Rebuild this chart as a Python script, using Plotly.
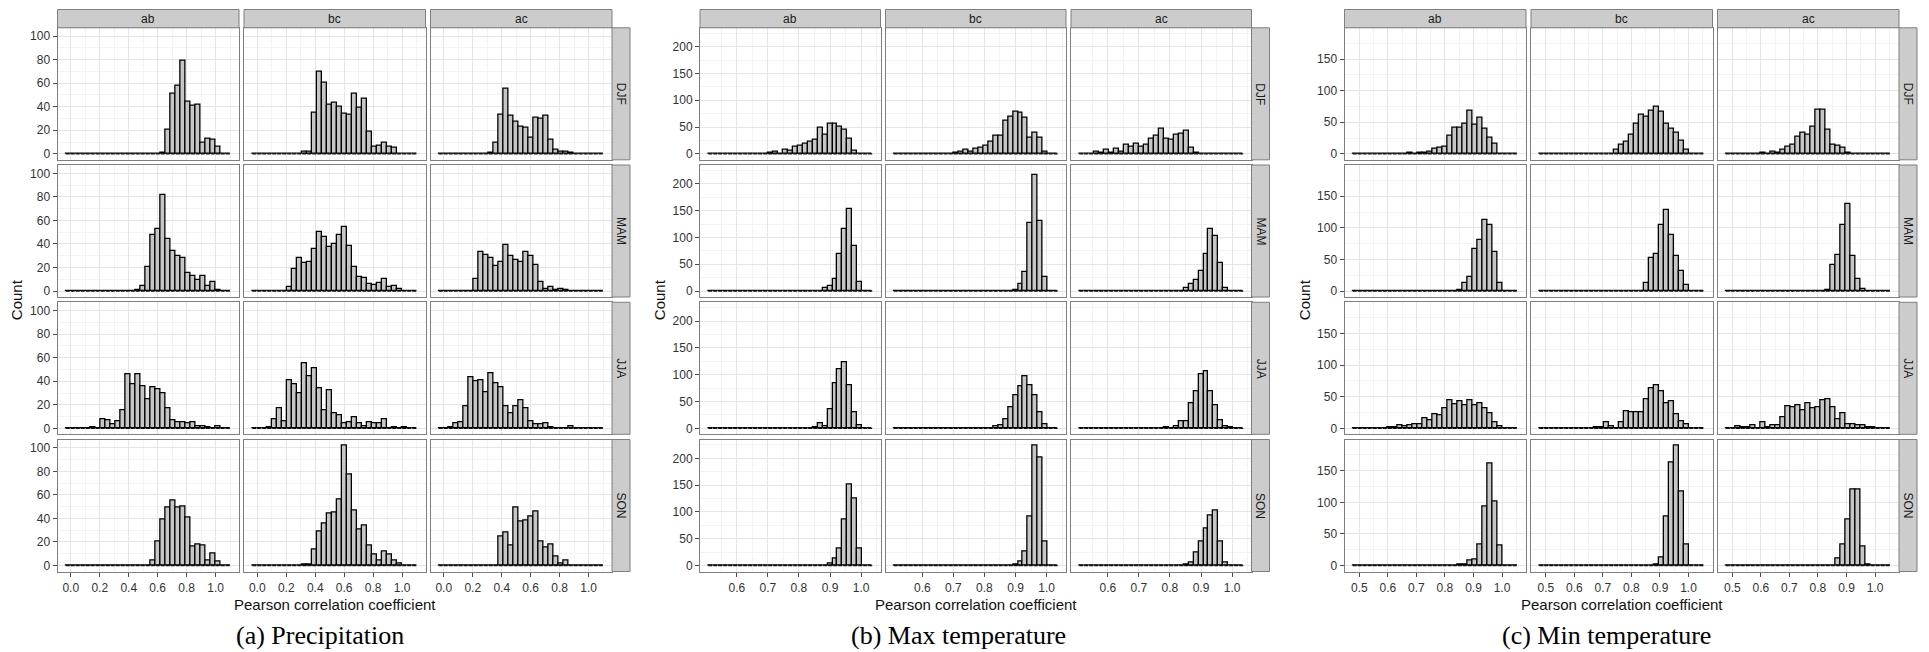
import plotly.graph_objects as go

# ---------------------------------------------------------------- data
SEASONS = ["DJF", "MAM", "JJA", "SON"]
PAIRS = ["ab", "bc", "ac"]
N_BINS = 33

# (a) Precipitation: histogram bins and counts
PRECIP_BIN_START = -0.0345
PRECIP_BIN_WIDTH = 0.0345
precip_djf_ab = [0]*19 + [1, 20, 51, 58, 79, 44, 41, 42, 9, 13, 12, 6] + [0]*2
precip_djf_bc = [0]*10 + [2, 2, 35, 70, 60, 42, 43, 40, 34, 33, 51, 39, 47, 19, 6, 7, 9, 6, 5] + [0]*4
precip_djf_ac = [0]*10 + [1, 9, 33, 55, 32, 27, 23, 22, 14, 31, 30, 32, 12, 3, 2, 2, 1] + [0]*6
precip_mam_ab = [0]*14 + [1, 4, 20, 48, 53, 82, 44, 34, 30, 28, 15, 13, 9, 13, 4, 8, 1] + [0]*2
precip_mam_bc = [0]*7 + [3, 19, 28, 24, 25, 36, 50, 46, 37, 40, 48, 54, 38, 20, 12, 11, 6, 5, 7, 10, 3, 4, 2] + [0]*3
precip_mam_ac = [0]*7 + [10, 33, 31, 28, 21, 25, 39, 30, 26, 25, 33, 30, 22, 8, 2, 3, 1, 2, 1] + [0]*7
precip_jja_ab = [0]*5 + [1, 0, 8, 7, 3, 6, 15, 46, 37, 46, 36, 25, 35, 33, 30, 17, 7, 5, 5, 4, 5, 2, 2, 1, 0, 2] + [0]*2
precip_jja_bc = [0]*3 + [1, 8, 17, 6, 41, 37, 30, 55, 44, 51, 34, 15, 32, 13, 11, 4, 5, 9, 4, 2, 5, 4, 4, 8, 0, 1, 0, 1] + [0]*2
precip_jja_ac = [0]*2 + [1, 4, 5, 19, 43, 40, 41, 31, 47, 38, 35, 19, 13, 19, 24, 17, 6, 3, 3, 4, 1, 0, 0, 0, 2] + [0]*6
precip_son_ab = [0]*17 + [4, 20, 39, 49, 55, 49, 50, 41, 16, 18, 17, 4, 10, 3] + [0]*2
precip_son_bc = [0]*10 + [1, 1, 14, 29, 36, 44, 45, 56, 102, 77, 47, 31, 34, 17, 9, 4, 12, 9, 4, 2] + [0]*3
precip_son_ac = [0]*12 + [25, 28, 17, 49, 37, 38, 42, 46, 20, 15, 18, 8, 2, 4] + [0]*7
PRECIP_X_TICKS = [0.0, 0.2, 0.4, 0.6, 0.8, 1.0]
PRECIP_Y_TICKS = [0, 20, 40, 60, 80, 100]

# (b) Max temperature
TMAX_BIN_START = 0.508
TMAX_BIN_WIDTH = 0.016
tmax_djf_ab = [0]*12 + [1, 3, 0, 7, 5, 14, 15, 19, 23, 26, 49, 36, 56, 56, 50, 45, 28, 5] + [0]*3
tmax_djf_bc = [0]*12 + [1, 3, 7, 4, 10, 12, 15, 22, 34, 33, 62, 69, 79, 76, 67, 30, 40, 29, 3] + [0]*2
tmax_djf_ac = [0]*3 + [3, 1, 7, 2, 9, 4, 17, 13, 18, 13, 16, 28, 34, 46, 28, 26, 35, 38, 43, 11, 1] + [0]*9
tmax_mam_ab = [0]*23 + [5, 9, 23, 69, 116, 153, 84, 16] + [0]*2
tmax_mam_bc = [0]*24 + [2, 13, 35, 127, 217, 130, 27] + [0]*2
tmax_mam_ac = [0]*21 + [5, 13, 20, 38, 69, 116, 103, 52, 5] + [0]*3
tmax_jja_ab = [0]*21 + [2, 9, 4, 36, 84, 110, 124, 80, 30, 5] + [0]*2
tmax_jja_bc = [0]*20 + [3, 6, 16, 40, 61, 79, 98, 81, 61, 30, 7] + [0]*2
tmax_jja_ac = [0]*17 + [1, 0, 3, 14, 13, 47, 69, 100, 106, 69, 43, 15, 3, 1] + [0]*2
tmax_son_ab = [0]*24 + [3, 13, 32, 85, 151, 125, 31] + [0]*2
tmax_son_bc = [0]*24 + [2, 8, 26, 92, 224, 202, 44] + [0]*2
tmax_son_ac = [0]*21 + [2, 5, 24, 44, 69, 94, 103, 45, 6] + [0]*3
TMAX_X_TICKS = [0.6, 0.7, 0.8, 0.9, 1.0]
TMAX_Y_TICKS = [0, 50, 100, 150, 200]

# (c) Min temperature
TMIN_BIN_START = 0.477
TMIN_BIN_WIDTH = 0.01752
tmin_djf_ab = [0]*11 + [1, 0, 2, 2, 3, 8, 10, 11, 29, 41, 41, 48, 68, 46, 57, 39, 25, 16] + [0]*4
tmin_djf_bc = [0]*15 + [6, 15, 19, 30, 48, 62, 58, 68, 75, 66, 47, 40, 33, 21, 6] + [0]*3
tmin_djf_ac = [0]*7 + [1, 0, 3, 2, 7, 11, 14, 27, 33, 30, 43, 69, 70, 38, 14, 13, 10, 2] + [0]*8
tmin_mam_ab = [0]*21 + [1, 12, 22, 67, 80, 113, 105, 62, 13] + [0]*3
tmin_mam_bc = [0]*21 + [13, 52, 59, 104, 128, 88, 56, 31, 10] + [0]*3
tmin_mam_ac = [0]*20 + [1, 41, 57, 105, 138, 55, 19, 3] + [0]*5
tmin_jja_ab = [0]*7 + [2, 2, 5, 3, 5, 6, 6, 16, 12, 22, 21, 31, 45, 38, 43, 36, 45, 37, 40, 32, 23, 10, 3] + [0]*3
tmin_jja_bc = [0]*11 + [1, 2, 9, 3, 0, 9, 27, 26, 25, 25, 46, 63, 68, 59, 40, 42, 22, 11, 7] + [0]*3
tmin_jja_ac = [0]*2 + [3, 1, 1, 4, 0, 10, 2, 5, 5, 18, 35, 34, 37, 29, 39, 31, 34, 45, 46, 34, 15, 24, 6, 6, 4, 4, 1, 1] + [0]*3
tmin_son_ab = [0]*21 + [2, 2, 8, 10, 33, 93, 162, 101, 32] + [0]*3
tmin_son_bc = [0]*23 + [1, 12, 77, 163, 190, 117, 34] + [0]*3
tmin_son_ac = [0]*22 + [11, 33, 73, 120, 121, 30, 2] + [0]*4
TMIN_X_TICKS = [0.5, 0.6, 0.7, 0.8, 0.9, 1.0]
TMIN_Y_TICKS = [0, 50, 100, 150]

CAPTIONS = ["(a) Precipitation", "(b) Max temperature", "(c) Min temperature"]
X_TITLE = "Pearson correlation coefficient"
Y_TITLE = "Count"

PRECIP = [[precip_djf_ab, precip_djf_bc, precip_djf_ac],
          [precip_mam_ab, precip_mam_bc, precip_mam_ac],
          [precip_jja_ab, precip_jja_bc, precip_jja_ac],
          [precip_son_ab, precip_son_bc, precip_son_ac]]
TMAX = [[tmax_djf_ab, tmax_djf_bc, tmax_djf_ac],
        [tmax_mam_ab, tmax_mam_bc, tmax_mam_ac],
        [tmax_jja_ab, tmax_jja_bc, tmax_jja_ac],
        [tmax_son_ab, tmax_son_bc, tmax_son_ac]]
TMIN = [[tmin_djf_ab, tmin_djf_bc, tmin_djf_ac],
        [tmin_mam_ab, tmin_mam_bc, tmin_mam_ac],
        [tmin_jja_ab, tmin_jja_bc, tmin_jja_ac],
        [tmin_son_ab, tmin_son_bc, tmin_son_ac]]
for grid in (PRECIP, TMAX, TMIN):
    for row in grid:
        for h in row:
            assert len(h) == N_BINS, len(h)

# ---------------------------------------------------------------- layout / style
W, H = 1929, 652
ROW_TOPS = [27.8, 165.0, 302.3, 439.5]
ROW_H = 132.0
STRIP_TOP = 9.5
STRIP_W = 18.0

FILL = "#C6C6C6"
MAJOR = "#E5E5E5"
MINOR = "#F3F3F3"
BORDER = "#7F7F7F"
STRIP_FILL = "#CCCCCC"
SANS = "Liberation Sans, Arial, sans-serif"
SERIF = "Liberation Serif, Times New Roman, serif"

panels = [
    dict(data=PRECIP, start=PRECIP_BIN_START, bw=PRECIP_BIN_WIDTH,
         xt=PRECIP_X_TICKS, xstep=0.2, yt=PRECIP_Y_TICKS, ystep=20,
         cols=[(57.5, 239.0), (244.0, 425.5), (430.5, 612.0)],
         count_x=16.5, caption_x=320),
    dict(data=TMAX, start=TMAX_BIN_START, bw=TMAX_BIN_WIDTH,
         xt=TMAX_X_TICKS, xstep=0.1, yt=TMAX_Y_TICKS, ystep=50,
         cols=[(700.0, 880.5), (885.5, 1066.0), (1071.0, 1251.5)],
         count_x=659.5, caption_x=958),
    dict(data=TMIN, start=TMIN_BIN_START, bw=TMIN_BIN_WIDTH,
         xt=TMIN_X_TICKS, xstep=0.1, yt=TMIN_Y_TICKS, ystep=50,
         cols=[(1344.5, 1526.0), (1531.0, 1712.5), (1717.5, 1899.0)],
         count_x=1304.5, caption_x=1606),
]


def fx(p):
    return p / W


def fy(p):
    return 1 - p / H


fig = go.Figure()
layout = dict(width=W, height=H, margin=dict(l=0, r=0, t=0, b=0),
              paper_bgcolor="white", plot_bgcolor="white", showlegend=False,
              hovermode=False, font=dict(family=SANS, color="#222222"))
shapes, annotations = [], []
tick_font = dict(family=SANS, size=12, color="#333333")

n = 0
for p, P in enumerate(panels):
    bw = P["bw"]
    edges = [P["start"] + i * bw for i in range(N_BINS + 1)]
    centers = [(edges[i] + edges[i + 1]) / 2 for i in range(N_BINS)]
    R = edges[-1] - edges[0]
    xr = [edges[0] - 0.05 * R, edges[-1] + 0.05 * R]
    ymax = max(max(h) for row in P["data"] for h in row)
    yr = [-0.05 * ymax, 1.05 * ymax]
    xt, yt = P["xt"], P["yt"]
    for r in range(4):
        for c in range(3):
            n += 1
            sfx = "" if n == 1 else str(n)
            x0, x1 = P["cols"][c]
            y0 = ROW_TOPS[r]
            y1 = y0 + ROW_H
            layout["xaxis" + sfx] = dict(
                domain=[fx(x0), fx(x1)], anchor="y" + sfx, range=xr,
                tickmode="array", tickvals=xt, ticktext=[f"{v:.1f}" for v in xt],
                showticklabels=(r == 3), ticks="outside" if r == 3 else "",
                ticklen=4, tickwidth=1, tickcolor="#4D4D4D", ticklabelstandoff=1,
                showgrid=True, gridcolor=MAJOR, gridwidth=1,
                minor=dict(tickmode="linear", tick0=xt[0] + P["xstep"] / 2,
                           dtick=P["xstep"], showgrid=True, gridcolor=MINOR,
                           gridwidth=1, ticks=""),
                showline=True, mirror=True, linecolor=BORDER, linewidth=1,
                zeroline=False, tickfont=tick_font, fixedrange=True)
            layout["yaxis" + sfx] = dict(
                domain=[fy(y1), fy(y0)], anchor="x" + sfx, range=yr,
                tickmode="array", tickvals=yt, ticktext=[str(v) for v in yt],
                showticklabels=(c == 0), ticks="outside" if c == 0 else "",
                ticklen=4, tickwidth=1, tickcolor="#4D4D4D",
                showgrid=True, gridcolor=MAJOR, gridwidth=1,
                minor=dict(tickmode="linear", tick0=yt[0] + P["ystep"] / 2,
                           dtick=P["ystep"], showgrid=True, gridcolor=MINOR,
                           gridwidth=1, ticks=""),
                showline=True, mirror=True, linecolor=BORDER, linewidth=1,
                zeroline=False, tickfont=tick_font, fixedrange=True)
            counts = P["data"][r][c]
            fig.add_trace(go.Scatter(
                x=[edges[0], edges[-1]], y=[0, 0], mode="lines",
                line=dict(color="#111111", width=1.3, dash="4px,1px"),
                xaxis="x" + sfx, yaxis="y" + sfx, hoverinfo="skip"))
            fig.add_trace(go.Bar(
                x=centers, y=counts, width=bw,
                marker=dict(color=FILL, line=dict(color="black", width=1.3)),
                xaxis="x" + sfx, yaxis="y" + sfx))

    # strips on top (pairs)
    for c, pair in enumerate(PAIRS):
        x0, x1 = P["cols"][c]
        shapes.append(dict(type="rect", xref="paper", yref="paper",
                           x0=fx(x0), x1=fx(x1), y0=fy(ROW_TOPS[0]), y1=fy(STRIP_TOP),
                           fillcolor=STRIP_FILL, line=dict(color=BORDER, width=1)))
        annotations.append(dict(text=pair, xref="paper", yref="paper",
                                x=fx((x0 + x1) / 2), y=fy((STRIP_TOP + ROW_TOPS[0]) / 2),
                                showarrow=False, xanchor="center", yanchor="middle",
                                font=dict(family=SANS, size=12, color="#1A1A1A")))
    # strips on the right (seasons)
    sx0 = P["cols"][2][1]
    sx1 = sx0 + STRIP_W
    for r, season in enumerate(SEASONS):
        y0 = ROW_TOPS[r]
        y1 = y0 + ROW_H
        shapes.append(dict(type="rect", xref="paper", yref="paper",
                           x0=fx(sx0), x1=fx(sx1), y0=fy(y1), y1=fy(y0),
                           fillcolor=STRIP_FILL, line=dict(color=BORDER, width=1)))
        annotations.append(dict(text=season, xref="paper", yref="paper",
                                x=fx((sx0 + sx1) / 2), y=fy((y0 + y1) / 2),
                                showarrow=False, textangle=90,
                                xanchor="center", yanchor="middle",
                                font=dict(family=SANS, size=12, color="#1A1A1A")))
    # axis titles
    left = P["cols"][0][0]
    right = P["cols"][2][1]
    annotations.append(dict(text=X_TITLE, xref="paper", yref="paper",
                            x=fx((left + right) / 2), y=fy(604), showarrow=False,
                            xanchor="center", yanchor="middle",
                            font=dict(family=SANS, size=15, color="#111111")))
    annotations.append(dict(text=Y_TITLE, xref="paper", yref="paper",
                            x=fx(P["count_x"]), y=fy((ROW_TOPS[0] + ROW_TOPS[3] + ROW_H) / 2),
                            showarrow=False, textangle=-90,
                            xanchor="center", yanchor="middle",
                            font=dict(family=SANS, size=15, color="#111111")))
    annotations.append(dict(text=CAPTIONS[p], xref="paper", yref="paper",
                            x=fx(P["caption_x"]), y=fy(635), showarrow=False,
                            xanchor="center", yanchor="middle",
                            font=dict(family=SERIF, size=26, color="#000000")))

layout["shapes"] = shapes
layout["annotations"] = annotations
layout["bargap"] = 0
fig.update_layout(**layout)

fig.write_html("out.html", config={"displayModeBar": False},
               post_script="document.body.style.margin='0';")
